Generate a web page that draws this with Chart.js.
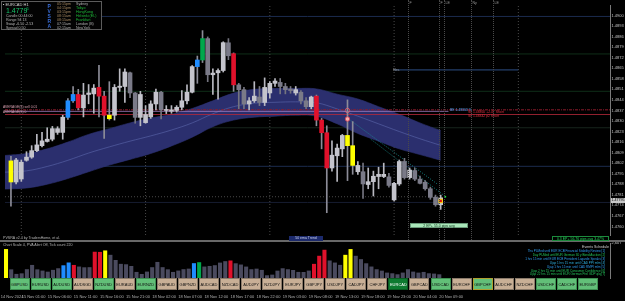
<!DOCTYPE html>
<html>
<head>
<meta charset="utf-8">
<script src="https://cdn.jsdelivr.net/npm/chart.js@4.4.1/dist/chart.umd.min.js"></script>
<style>
  html, body { margin: 0; padding: 0; background: #000; }
  body { width: 625px; height: 301px; position: relative; overflow: hidden; font-family: "Liberation Sans", Arial, sans-serif; }
  canvas { position: absolute; left: 0; }
  #main { top: 0; }
  #vol { top: 242px; }
  .t { position: absolute; white-space: nowrap; font-size: 4px; line-height: 4px; color: #b4b4b4; }
  .box { position: absolute; box-sizing: border-box; }
  .btn { position: absolute; top: 278px; width: 20px; height: 12px; box-sizing: border-box; font-size: 4px; line-height: 12px; text-align: center; color: #111; background: #c8af96; border: 1px solid #8a7a6a; }
  .btn.on { background: #62bf78; border-color: #3f8f52; }
  .btn.cur { background: #0e7a30; color: #fff; border-color: #0a5a22; }
</style>
</head>
<body>
<canvas id="main" width="625" height="240"></canvas>
<canvas id="vol" width="625" height="59"></canvas>
<div id="overlay"></div>
<script>
// --- candles, EURCAD H1 ---
const opens  = [1.48035,1.47895,1.47915,1.48039,1.48060,1.48103,1.48136,1.48164,1.48179,1.48224,1.48224,1.48324,1.48434,1.48476,1.48387,1.48476,1.48480,1.48523,1.48465,1.48338,
                1.48338,1.48523,1.48529,1.48620,1.48486,1.48324,1.48289,1.48327,1.48413,1.48491,1.48370,1.48365,1.48370,1.48391,1.48434,1.48491,1.48661,1.48705,1.48847,1.48607,
                1.48620,1.48635,1.48819,1.48747,1.48540,1.48508,1.48413,1.48434,1.48459,1.48423,1.48486,1.48550,1.48556,1.48529,1.48512,1.48486,1.48491,1.48434,1.48395,1.48465,
                1.48306,1.48222,1.47988,1.48069,1.48115,1.48204,1.48136,1.47963,1.47963,1.47878,1.47897,1.47931,1.47931,1.47929,1.47776,1.47882,1.48031,1.47924,1.47971,1.47914,
                1.47893,1.47850,1.47793,1.47744];
const highs  = [1.48065,1.48052,1.48041,1.48096,1.48136,1.48211,1.48224,1.48255,1.48264,1.48262,1.48338,1.48448,1.48529,1.48510,1.48550,1.48542,1.48542,1.48669,1.48497,1.48561,
                1.48542,1.48646,1.48646,1.48625,1.48490,1.48497,1.48402,1.48434,1.48512,1.48497,1.48402,1.48402,1.48402,1.48502,1.48540,1.48667,1.48731,1.48900,1.48858,1.48646,
                1.48646,1.48826,1.48847,1.48752,1.48550,1.48523,1.48455,1.48561,1.48529,1.48586,1.48561,1.48582,1.48582,1.48550,1.48529,1.48529,1.48502,1.48455,1.48465,1.48472,
                1.48317,1.48268,1.48168,1.48147,1.48211,1.48440,1.48296,1.48031,1.48020,1.47988,1.47967,1.47993,1.48020,1.47952,1.47893,1.48041,1.48052,1.47988,1.47988,1.47935,
                1.47904,1.47861,1.47808,1.47808];
const lows   = [1.47734,1.47882,1.47899,1.48033,1.48052,1.48096,1.48128,1.48160,1.48168,1.48211,1.48179,1.48311,1.48423,1.48374,1.48327,1.48414,1.48351,1.48327,1.48184,1.48306,
                1.48306,1.48497,1.48423,1.48455,1.48285,1.48268,1.48285,1.48317,1.48374,1.48313,1.48349,1.48351,1.48359,1.48374,1.48413,1.48486,1.48550,1.48688,1.48561,1.48476,
                1.48444,1.48625,1.48707,1.48497,1.48381,1.48381,1.48374,1.48423,1.48402,1.48402,1.48451,1.48529,1.48480,1.48480,1.48484,1.48472,1.48413,1.48381,1.48381,1.48268,
                1.48115,1.47691,1.47967,1.47899,1.48063,1.47904,1.47946,1.47946,1.47786,1.47850,1.47802,1.47850,1.47924,1.47861,1.47770,1.47872,1.47914,1.47914,1.47904,1.47882,
                1.47840,1.47780,1.47734,1.47713];
const closes = [1.47895,1.48041,1.48026,1.48060,1.48103,1.48141,1.48168,1.48179,1.48249,1.48249,1.48325,1.48434,1.48476,1.48387,1.48472,1.48486,1.48518,1.48465,1.48338,1.48315,
                1.48523,1.48531,1.48625,1.48486,1.48324,1.48476,1.48343,1.48413,1.48491,1.48374,1.48374,1.48374,1.48391,1.48434,1.48491,1.48661,1.48705,1.48847,1.48607,1.48618,
                1.48635,1.48820,1.48733,1.48540,1.48508,1.48413,1.48434,1.48465,1.48423,1.48523,1.48550,1.48565,1.48529,1.48508,1.48502,1.48508,1.48434,1.48395,1.48459,1.48306,
                1.48222,1.47988,1.48073,1.48120,1.48204,1.48136,1.48005,1.48005,1.47882,1.47897,1.47933,1.47946,1.47946,1.47872,1.47886,1.48031,1.47924,1.47974,1.47914,1.47886,
                1.47850,1.47793,1.47744,1.47790];
// PVSRA bar class: n normal, R/G red/green climax, B blue rising, Y yellow
const kinds = ('Y' + 'nnnnnnnnnn' + 'BBR' + 'nnn' + 'RRY' + 'nnnnnnnnnnnnnnnn' + 'BG' + 'nnnnn' + 'R' +
               'nnnnnnnnnnnnnnn' + 'RRR' + 'nnn' + 'YY' + 'nnnnnnnnnnnnnnnnn').split('');
// tick volume
const volumes = [2131,618,281,322,630,948,619,527,446,581,702,921,1130,948,829,772,781,1931,1918,2027,
                 1702,1318,1029,998,871,428,276,452,779,1172,781,622,428,529,631,672,1079,1152,828,872,
                 928,1121,1228,1279,1071,978,826,628,671,577,178,226,522,701,628,572,428,423,527,1028,
                 1631,2078,1279,1126,952,1702,2129,1629,1378,1071,829,628,522,377,326,251,378,627,452,376,
                 428,327,302,251];

// 50 ema trend band (x in bar index)
const bandX   = [-1.2, 3, 7, 11, 15, 19, 23, 27, 31, 35, 39, 43, 47, 51, 55, 59, 63, 67, 71, 75, 79, 83];
const bandTop = [1.48071,1.48084,1.48115,1.48160,1.48211,1.48249,1.48287,1.48319,1.48344,1.48383,1.48434,1.48485,
                 1.48510,1.48516,1.48516,1.48513,1.48478,1.48446,1.48395,1.48344,1.48287,1.48236];
const bandBot = [1.47848,1.47855,1.47880,1.47918,1.47963,1.48007,1.48045,1.48084,1.48134,1.48192,1.48262,1.48306,
                 1.48325,1.48332,1.48338,1.48332,1.48281,1.48217,1.48166,1.48115,1.48077,1.48039];
const emaMid  = [1.47960,1.47969,1.47998,1.48039,1.48087,1.48128,1.48166,1.48201,1.48240,1.48287,1.48348,1.48395,
                 1.48418,1.48424,1.48427,1.48421,1.48380,1.48332,1.48281,1.48230,1.48182,1.48138];

// price axis
const priceTicks = [1.4900,1.4893,1.4886,1.4879,1.4872,1.4865,1.4858,1.4851,1.4844,1.4837,1.4830,
                    1.4823,1.4816,1.4809,1.4802,1.4795,1.4788,1.4781,1.4774,1.4767,1.4760];
const priceMax = 1.4907, priceMin = 1.47543;

// levels
const zoneLevels = [1.48994, 1.48745, 1.48497, 1.48255, 1.47999, 1.47759];
const avgSellLevel = 1.48374, beLevel = 1.48364, slLevel = 1.48343;
const bidLevel = 1.47797;
const ebsLevel = 1.48639, ebsFrom = 74, ebsTo = 98;
const daySeps = [2, 26, 50, 74, 98];
const trendA = [{x: 65, y: 1.48319}, {x: 82.4, y: 1.47880}];
const trendB = [{x: 69.5, y: 1.48179}, {x: 83.7, y: 1.47804}];
const entryMarks = [{x: 65, y: 1.48370}, {x: 65, y: 1.48313}];
const lastMark = [{x: 83, y: 1.47769}];

// time axis
const timeTickIdx = [-1, 3, 8, 13, 18, 23, 28, 33, 38, 43, 48, 53, 58, 63, 68, 73, 78, 83];
const timeTickLabels = ['14 Nov 2024','15 Nov 01:00','15 Nov 06:00','15 Nov 11:00','15 Nov 16:00','15 Nov 21:00',
  '18 Nov 02:00','18 Nov 07:00','18 Nov 12:00','18 Nov 17:00','18 Nov 22:00','19 Nov 03:00','19 Nov 08:00',
  '19 Nov 13:00','19 Nov 18:00','19 Nov 23:00','20 Nov 04:00','20 Nov 09:00'];

const pairs = ['GBPUSD','EURUSD','AUDUSD','AUDSGD','NZDUSD','EURAUD','EURNZD','GBPAUD','GBPNZD','AUDCAD','NZDCAD',
  'AUDJPY','NZDJPY','EURJPY','GBPJPY','USDJPY','CADJPY','CHFJPY','EURCAD','GBPCAD','USDCAD','EURCHF','GBPCHF',
  'AUDCHF','NZDCHF','USDCHF','CADCHF','EURGBP'];
const pairsOn = ['GBPUSD','EURUSD','AUDUSD','NZDUSD','EURNZD','USDCAD','GBPCHF','USDCHF','CADCHF','EURGBP'];

const xMin = -1.15, xMax = 115.7;
const kindColor = { R: '#e0112b', G: '#00a84c', B: '#1f8cff', Y: '#ffff00' };
const FONT = '"Liberation Sans", Arial, sans-serif';

function bodyColor(i) {
    if (kinds[i] !== 'n') return kindColor[kinds[i]];
    return closes[i] >= opens[i] ? '#c4c4cc' : '#7a7a88';
}
function wickColor(i) {
    if (kinds[i] !== 'n') return '#8c8c98';
    return closes[i] >= opens[i] ? '#b8b8c0' : '#74747f';
}

const hline = (y, from, to) => [{ x: from, y }, { x: to, y }];
const lineDs = (data, color, width, dash, order) => ({
    type: 'line', data, borderColor: color, borderWidth: width, borderDash: dash || [],
    pointRadius: 0, fill: false, tension: 0, order
});

const datasets = [
    { type: 'line', data: bandX.map((x, i) => ({ x, y: bandTop[i] })), borderColor: '#2e3275', borderWidth: 0.6,
      backgroundColor: '#2b2f6e', fill: '+1', pointRadius: 0, tension: 0.4, order: 30 },
    { type: 'line', data: bandX.map((x, i) => ({ x, y: bandBot[i] })), borderColor: '#2e3275', borderWidth: 0.6,
      fill: false, pointRadius: 0, tension: 0.4, order: 29 },
    { type: 'line', data: bandX.map((x, i) => ({ x, y: emaMid[i] })), borderColor: '#5c68ad', borderWidth: 0.6,
      fill: false, pointRadius: 0, tension: 0.4, order: 28 },
];
const zoneColors = ['#1b2b4e', '#0f2e18', '#0f2e18', '#17241c', '#1b2b4e', '#161c30'];
zoneLevels.forEach((p, k) => datasets.push(lineDs(hline(p, xMin, xMax), zoneColors[k], 1, null, 35)));
daySeps.forEach(d => datasets.push(lineDs([{ x: d, y: priceMin }, { x: d, y: priceMax }], '#5a5a5a', 0.8, [1, 2], 34)));
datasets.push(lineDs(hline(bidLevel, xMin, 83), '#5c5c5c', 0.8, [1, 2], 33));
datasets.push(lineDs(hline(ebsLevel, ebsFrom, ebsTo), '#2c4f86', 1, null, 20));
datasets.push(lineDs(hline(avgSellLevel, xMin, xMax), '#8e1b2c', 1, [3, 1, 1, 1], 20));
datasets.push(lineDs(hline(beLevel, xMin, 84.5), '#a57fc4', 0.8, null, 20));
datasets.push(lineDs(hline(slLevel, xMin, xMax), '#b8283a', 0.8, null, 20));
datasets.push(lineDs(trendA, '#1a9a9a', 0.8, [1, 1.5], 6));
datasets.push(lineDs(trendB, '#1a9a9a', 0.8, [1, 1.5], 6));
datasets.push({ type: 'bar', data: lows.map((l, i) => ({ x: i, y: [l, highs[i]] })), backgroundColor: lows.map((_, i) => wickColor(i)),
    barThickness: 1, grouped: false, order: 4 });
datasets.push({ type: 'bar', data: opens.map((o, i) => ({ x: i, y: [o, closes[i]] })), backgroundColor: opens.map((_, i) => bodyColor(i)),
    barThickness: 4, minBarLength: 1, grouped: false, order: 3 });
datasets.push({ type: 'scatter', data: entryMarks, pointStyle: 'circle', pointRadius: 2.2,
    backgroundColor: ['rgba(0,0,0,0)', '#f2b0b0'], borderColor: ['#e06070', '#e04050'], borderWidth: 0.8, order: 1 });
datasets.push({ type: 'scatter', data: lastMark, pointStyle: 'rect', pointRadius: 2.4,
    backgroundColor: '#e01010', borderColor: '#ffd800', borderWidth: 1, order: 0 });
datasets.push({ type: 'scatter', data: [{ x: 83.9, y: 1.47797 }], pointRadius: 0.9, backgroundColor: '#20e040', borderWidth: 0, order: 0 });

const rightAxisFit = w => s => { s.width = w; s.paddingTop = 0; s.paddingBottom = 0; };

new Chart(document.getElementById('main'), {
    type: 'bar',
    data: { datasets },
    options: {
        responsive: false, animation: false,
        layout: { padding: 0 },
        plugins: { legend: { display: false }, tooltip: { enabled: false } },
        scales: {
            x: { type: 'linear', min: xMin, max: xMax, offset: false, display: false },
            y: {
                position: 'right', min: priceMin, max: priceMax,
                afterBuildTicks: s => { s.ticks = priceTicks.map(v => ({ value: v })); },
                afterFit: rightAxisFit(15),
                ticks: { color: '#c4c4c4', font: { size: 4, family: FONT }, padding: 1.5, callback: v => v.toFixed(4) },
                grid: { display: false, drawTicks: false },
                border: { display: true, color: '#7a7a7a', width: 1 }
            }
        }
    }
});

new Chart(document.getElementById('vol'), {
    type: 'bar',
    data: {
        datasets: [{
            data: volumes.map((v, i) => ({ x: i, y: v })),
            backgroundColor: volumes.map((_, i) => kinds[i] === 'n' ? '#4a4a5e' : kindColor[kinds[i]]),
            barThickness: 3.4, grouped: false
        }]
    },
    options: {
        responsive: false, animation: false,
        layout: { padding: { top: 1 } },
        plugins: { legend: { display: false }, tooltip: { enabled: false } },
        scales: {
            x: {
                type: 'linear', min: xMin, max: xMax, offset: false,
                afterBuildTicks: s => { s.ticks = timeTickIdx.map(v => ({ value: v })); },
                afterFit: s => { s.height = 23; s.paddingLeft = 0; s.paddingRight = 0; },
                ticks: { color: '#b0b0b0', font: { size: 4, family: FONT }, padding: 16, align: 'start',
                         maxRotation: 0, autoSkip: false, callback: (v, i) => timeTickLabels[i] },
                grid: { display: false, drawTicks: false },
                border: { display: false }
            },
            y: {
                position: 'right', min: 0, max: 2607,
                afterBuildTicks: s => { s.ticks = [{ value: 2607 }]; },
                afterFit: rightAxisFit(15),
                ticks: { color: '#c4c4c4', font: { size: 4, family: FONT }, padding: 1.5 },
                grid: { display: false, drawTicks: false },
                border: { display: true, color: '#7a7a7a', width: 1 }
            }
        }
    }
});

// --- text overlays (terminal widgets) ---
const ov = document.getElementById('overlay');
function txt(s, x, y, color, size, extra) {
    const d = document.createElement('div');
    d.className = 't';
    d.textContent = s;
    d.style.left = x + 'px'; d.style.top = y + 'px';
    if (color) d.style.color = color;
    if (size) { d.style.fontSize = size + 'px'; d.style.lineHeight = size + 'px'; }
    if (extra) Object.assign(d.style, extra);
    ov.appendChild(d);
    return d;
}
function box(x, y, w, h, style) {
    const d = document.createElement('div');
    d.className = 'box';
    Object.assign(d.style, { left: x + 'px', top: y + 'px', width: w + 'px', height: h + 'px' }, style);
    ov.appendChild(d);
    return d;
}

// panel separators
box(0, 240, 610, 2, { background: '#686868' });
box(610, 240, 15, 2, { background: '#686868' });

// info panel
box(1, 1, 101, 29, { border: '1px solid #5c5c5c', background: '#030303' });
txt('\u25aa EURCAD H1', 3, 2.5, '#d4d4d4', 4);
txt('1.4779', 6, 7, '#17c46a', 7);
txt('5', 26.5, 7, '#17c46a', 4);
txt('Candle  00:44:00', 6, 14.5, '#b8b8b8', 3.6);
txt('Range   94   13', 6, 18.5, '#b8b8b8', 3.6);
txt('Swap   -6.50  -2.53', 6, 22.5, '#b8b8b8', 3.6);
txt('Spread  0.50', 6, 26.5, '#b8b8b8', 3.6);
const pv = ['P', 'V', 'S', 'R', 'A'];
pv.forEach((c, k) => txt(c, 47.5, 4 + k * 5, '#3a6ed8', 5, { fontWeight: 'bold' }));
const sessTimes = ['05:15', '04:15', '03:15', '08:15', '08:15', '07:15', '02:15'];
const sessAmPm = ['pm', 'pm', 'pm', 'am', 'am', 'am', 'am'];
const sessCity = ['Sydney', 'Tokyo', 'HongKong', 'Helsinki (EL)', 'Frankfurt', 'London (B)', 'NewYork'];
const sessOpen = [false, true, true, true, true, false, false];
sessCity.forEach((c, k) => {
    const y = 2.5 + k * 4;
    txt(sessTimes[k], 57, y, k < 5 ? '#a88a62' : '#b0b0b0', 3.6);
    txt(sessAmPm[k], 66, y, k < 5 ? '#a88a62' : '#b0b0b0', 3.6);
    txt(c, 76, y, sessOpen[k] ? '#1fbf3a' : '#b0b0b0', 3.6);
});

// trade labels
txt('AVERAGE(S) sell 0.01', 3, 105.5, '#d8a0b0', 3.4);
txt('AVERAGE(S) 0', 3, 110.5, '#d8a0b0', 3.4);
txt('BE 1.48363 %', 450, 108.5, '#5ea8ff', 3.4);
txt('SL 1.48360 +2.47 Short', 468, 111, '#e0303f', 3.4);
txt('SL 1.48342 p2 Short', 468, 114.5, '#e0303f', 3.4);
txt('Ebs.', 393, 68.5, '#a0a0a0', 3.4);

// session markers on top
const sessMarkX = [408, 439, 444, 471, 493];
const sessMarkTxt = ['F', 'F', 'LE', 'Ny', 'LE'];
sessMarkX.forEach((x, k) => {
    box(x, 0, 0.8, 240, { borderLeft: '0.8px dotted #4a4a4a' });
    txt(sessMarkTxt[k], x + 1.5, 1.5, '#9a9a9a', 3.6);
});

txt('PVSRA v2.4 by TradersHome, et al.', 3, 236.5, '#b4b4b4', 3.6);
const ema = box(289, 236, 34, 5, { background: '#1c2a6c' });
ema.appendChild(Object.assign(document.createElement('div'), { textContent: '50 ema Trend' }));
Object.assign(ema.firstChild.style, { font: '3.5px/5px ' + FONT, color: '#c8d0ee', textAlign: 'center' });

const ep = box(410, 222.5, 58, 5.5, { background: '#a9e6b9', border: '0.5px solid #6a9a7a' });
ep.appendChild(Object.assign(document.createElement('div'), { textContent: '2 EP+ 55.0 pips avg' }));
Object.assign(ep.firstChild.style, { font: '3.5px/4.5px ' + FONT, color: '#123a1e', textAlign: 'center' });

const ep2 = box(552, 235.5, 57, 5.5, { background: '#000', border: '0.8px solid #1c8a3c' });
ep2.appendChild(Object.assign(document.createElement('div'), { textContent: '0.3 EP+ 56.76 pips avg 3.47%' }));
Object.assign(ep2.firstChild.style, { font: '3.5px/4px ' + FONT, color: '#22d458', textAlign: 'center' });

// current price tag on the axis
const tag = box(611, 197.5, 14, 5, { background: '#c8c8c8' });
tag.appendChild(Object.assign(document.createElement('div'), { textContent: '1.47795' }));
Object.assign(tag.firstChild.style, { font: '3.6px/5px ' + FONT, color: '#000', paddingLeft: '0.5px' });

// volume subwindow header and events
txt('Chart Scale 4,  PVA Alert Off,  Tick count 220', 3, 244, '#b4b4b4', 3.6);
txt('Events Schedule', 582, 245.5, '#d0d0d0', 3.6);
const events = [
    'Thu Pl-Med until EUR ECB Financial Stability Review  [1]',
    'Day Pl-Med until EUR German 30 y Bond Auction  [2]',
    '1 hrs 15 min until EUR ECB President Lagarde Speaks  [3]',
    'Ujap 1 hrs 15 min until CAD PPI m/m  [4]',
    'Ujap 1 hrs 15 min until CAD RMPI m/m  [5]',
    'Ujap 2 hrs 15 min until EUR Consumer Confidence  [6]',
    'Ujap 22 hrs 15 min until EUR German Prel GDP q/q  [7]'
];
const eventColors = ['#2f9cf0', '#24c25a', '#2f9cf0', '#2fb0e0', '#2f9cf0', '#24c25a', '#24c25a'];
events.forEach((e, k) => txt(e, 0, 250 + k * 3.9, eventColors[k], 3.1, { left: 'auto', right: '20px' }));

// symbol buttons
pairs.forEach((p, k) => {
    const d = document.createElement('div');
    d.className = 'btn' + (p === 'EURCAD' ? ' cur' : pairsOn.includes(p) ? ' on' : '');
    if (p === 'GBPCHF') d.style.borderColor = '#b0a030';
    d.style.left = (9.5 + k * 21.05) + 'px';
    d.textContent = p;
    ov.appendChild(d);
});
</script>
</body>
</html>
